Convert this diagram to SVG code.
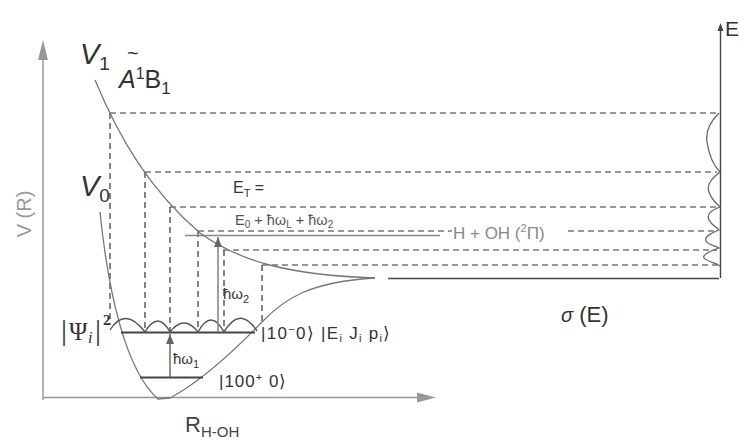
<svg xmlns="http://www.w3.org/2000/svg" width="739" height="442" viewBox="0 0 739 442">
<defs>
<style>
.curve{fill:none;stroke:#777;stroke-width:1.3}
.dash{fill:none;stroke:#333;stroke-width:1.2;stroke-dasharray:6 4}
.level{stroke:#444;stroke-width:2.2}
.axis{stroke:#999;stroke-width:1.5;fill:none}
.t{font-family:"Liberation Sans",Arial,sans-serif;fill:#333}
.s{font-family:"Liberation Serif","Times New Roman",serif;fill:#333}
</style>
<marker id="up" markerWidth="10" markerHeight="8" refX="10" refY="4" orient="auto" markerUnits="userSpaceOnUse" viewBox="0 0 10 8">
<path d="M0,0 L10,4 L0,8 z" fill="#666"/>
</marker>
</defs>
<rect width="739" height="442" fill="#fff"/>

<g id="axes">
<line class="axis" x1="43" y1="400" x2="43" y2="56"/>
<polygon points="43,40 38,60 48,60" fill="#999"/>
<line class="axis" x1="43" y1="397.5" x2="420" y2="397.5"/>
<polygon points="436,397.5 417,392.5 417,402.5" fill="#999"/>
<line x1="720.5" y1="278" x2="720.5" y2="30" stroke="#444" stroke-width="1.4"/>
<polygon points="720.5,23 717.5,31 723.5,31" fill="#444"/>
<line x1="388" y1="278.5" x2="719" y2="278.5" stroke="#444" stroke-width="1.4"/>
</g>

<g id="connectors">
<line class="dash" x1="110" y1="113" x2="717" y2="113"/>
<line class="dash" x1="145" y1="172" x2="717" y2="172"/>
<line class="dash" x1="170" y1="207" x2="717" y2="207"/>
<line class="dash" x1="198" y1="231" x2="452" y2="231"/>
<line class="dash" x1="568" y1="231" x2="717" y2="231"/>
<line class="dash" x1="223" y1="250" x2="717" y2="250"/>
<line class="dash" x1="262" y1="265" x2="717" y2="265"/>
<line class="dash" x1="110" y1="113" x2="110" y2="325"/>
<line class="dash" x1="145" y1="172" x2="145" y2="332"/>
<line class="dash" x1="170" y1="207" x2="170" y2="332"/>
<line class="dash" x1="198" y1="231" x2="198" y2="332"/>
<line class="dash" x1="224" y1="250" x2="224" y2="332"/>
<line class="dash" x1="262" y1="265" x2="262" y2="325"/>
<line x1="185" y1="235.5" x2="440" y2="235.5" stroke="#888" stroke-width="1.5"/>
</g>

<g id="V1">
<path class="curve" d="M95,80 C120,140 150,190 200,233 C240,262 290,275 375,278"/>
</g>
<g id="V0">
<path class="curve" d="M100,212 C108,290 125,370 158,399 L170,398 C200,382 235,350 262,322 C285,298 310,282 375,278"/>
</g>

<g id="levels">
<line class="level" x1="121" y1="332.5" x2="255" y2="332.5"/>
<line class="level" x1="140" y1="377.5" x2="203" y2="377.5"/>
<path d="M110,330 Q125,306 145,332 Q158,310 170,332 Q184,314 198,332 Q211,308 224,332 Q240,305 257,331" fill="none" stroke="#555" stroke-width="1.4"/>
</g>

<g id="transitions">
<line x1="170" y1="377" x2="170" y2="334" stroke="#555" stroke-width="1.3" marker-end="url(#up)"/>
<line x1="218" y1="332" x2="218" y2="237" stroke="#888" stroke-width="1.6" marker-end="url(#up)"/>
</g>

<g id="spectrum">
<path d="M719,113 C712,120 705,130 707,142 C709,155 713,165 720,172 C712,178 706,185 709,192 C711,199 716,203 720,207 C712,210 706,214 709,220 C712,226 718,228 719,230 C711,233 704,237 706,241 C708,245 716,246 719,248 C710,251 702,255 704,258 C706,261 716,263 720,266" fill="none" stroke="#666" stroke-width="1.3"/>
</g>

<g id="labels">
<text class="t" x="80" y="64" font-size="29" font-style="italic">V<tspan font-size="19" font-style="normal" dy="6">1</tspan></text>
<text class="t" x="80" y="196" font-size="29" font-style="italic">V<tspan font-size="19" font-style="normal" dy="6">0</tspan></text>
<text class="t" x="119" y="88" font-size="25"><tspan font-style="italic">A</tspan><tspan font-size="16" dy="-9">1</tspan><tspan dy="9">B</tspan><tspan font-size="17" dy="6">1</tspan></text>
<text class="t" x="127" y="60" font-size="20">~</text>
<text class="t" transform="translate(31,214) rotate(-90)" font-size="20" text-anchor="middle" style="fill:#999">V (R)</text>
<text class="t" x="233" y="193" font-size="16">E<tspan font-size="11" dy="4">T</tspan><tspan dy="-4"> =</tspan></text>
<text class="t" x="235" y="225" font-size="14.5" style="fill:#555">E<tspan font-size="10" dy="3">0</tspan><tspan dy="-3"> + ħω</tspan><tspan font-size="10" dy="3">L</tspan><tspan dy="-3"> + ħω</tspan><tspan font-size="10" dy="3">2</tspan></text>
<text class="t" x="453" y="239" font-size="17" style="fill:#888">H + OH (<tspan font-size="11" dy="-7">2</tspan><tspan dy="7">Π)</tspan></text>
<text class="t" x="223" y="299" font-size="15">ħω<tspan font-size="11" dy="4">2</tspan></text>
<text class="t" x="173" y="364" font-size="15">ħω<tspan font-size="11" dy="4">1</tspan></text>
<text class="s" y="340"><tspan x="61" font-size="30">|</tspan><tspan x="69" font-size="25">Ψ</tspan><tspan x="88" font-size="16" font-style="italic" dy="3">i</tspan><tspan x="95" font-size="30" dy="-3">|</tspan><tspan x="103" font-size="15" font-weight="bold" dy="-15">2</tspan></text>
<text class="t" x="261" y="339" font-size="17" letter-spacing="1.3">|10<tspan font-size="11" dy="-6">−</tspan><tspan dy="6">0⟩ |E</tspan><tspan font-size="11" dy="3">i</tspan><tspan dy="-3"> J</tspan><tspan font-size="11" dy="3">i</tspan><tspan dy="-3"> p</tspan><tspan font-size="11" dy="3">i</tspan><tspan dy="-3">⟩</tspan></text>
<text class="t" x="219" y="387" font-size="17" letter-spacing="1">|100<tspan font-size="11" dy="-6">+</tspan><tspan dy="6"> 0⟩</tspan></text>
<text class="t" x="185" y="432" font-size="22" style="fill:#444">R<tspan font-size="15" dy="5">H-OH</tspan></text>
<text class="t" x="561" y="322" font-size="22"><tspan font-style="italic" font-size="20">σ</tspan> (E)</text>
<text class="t" x="725" y="36" font-size="21">E</text>
</g>
</svg>
